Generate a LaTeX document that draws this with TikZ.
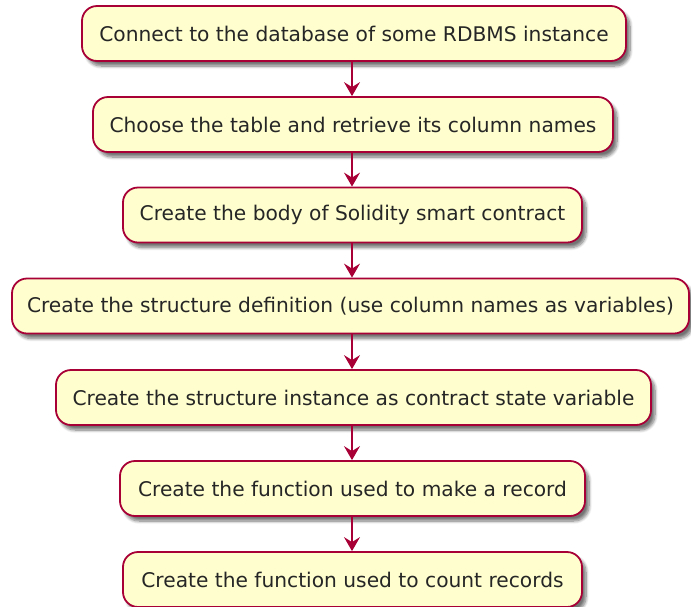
\documentclass[tikz,border=0pt]{standalone}
\usepackage{fontspec}
\setmainfont{DejaVu Sans}
\usetikzlibrary{shadows,shadows.blur,arrows.meta}
\definecolor{actfill}{HTML}{FEFECE}
\definecolor{actline}{HTML}{A80036}
\tikzset{
  act/.style={draw=actline, line width=1.8pt, fill=actfill, rounded corners=15pt,
    minimum height=55pt, inner sep=0pt, font=\fontsize{20.2}{22}\selectfont, text=black!85,
    blur shadow={shadow xshift=4pt, shadow yshift=-5pt, shadow blur radius=3pt, shadow blur steps=8, shadow opacity=55}},
  flow/.style={draw=actline, line width=1.6pt, -{Stealth[length=14pt,width=16pt,inset=5pt]}}
}
\begin{document}
\begin{tikzpicture}[x=1pt,y=1pt]
\useasboundingbox (0,0) rectangle (691,-606);
\node[act, minimum width=544pt] (a1) at (354,-33.5) {Connect to the database of some RDBMS instance};
\node[act, minimum width=520pt] (a2) at (353,-124.5) {Choose the table and retrieve its column names};
\node[act, minimum width=459pt] (a3) at (352.5,-215) {Create the body of Solidity smart contract};
\node[act, minimum width=677pt] (a4) at (350.5,-306) {Create the structure definition (use column names as variables)};
\node[act, minimum width=595pt] (a5) at (353.5,-397.5) {Create the structure instance as contract state variable};
\node[act, minimum width=465pt] (a6) at (352.5,-488.5) {Create the function used to make a record};
\node[act, minimum width=459pt] (a7) at (352.5,-579.5) {Create the function used to count records};
\draw[flow] (a1.south -| 352,0) -- (a2.north -| 352,0);
\draw[flow] (a2.south -| 352,0) -- (a3.north -| 352,0);
\draw[flow] (a3.south -| 352,0) -- (a4.north -| 352,0);
\draw[flow] (a4.south -| 352,0) -- (a5.north -| 352,0);
\draw[flow] (a5.south -| 352,0) -- (a6.north -| 352,0);
\draw[flow] (a6.south -| 352,0) -- (a7.north -| 352,0);
\end{tikzpicture}
\end{document}
